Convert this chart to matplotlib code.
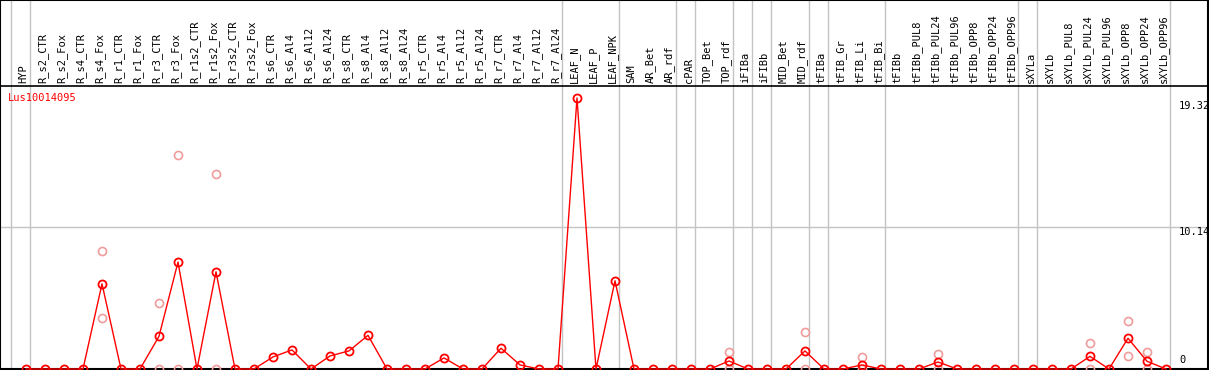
import numpy as np
import matplotlib.pyplot as plt

plt.rcParams['font.family'] = 'DejaVu Sans Mono'

gene = 'Lus10014095'

samples = ['HYP',
           'R_s2_CTR', 'R_s2_Fox', 'R_s4_CTR', 'R_s4_Fox', 'R_r1_CTR', 'R_r1_Fox',
           'R_r3_CTR', 'R_r3_Fox', 'R_r1s2_CTR', 'R_r1s2_Fox', 'R_r3s2_CTR', 'R_r3s2_Fox',
           'R_s6_CTR', 'R_s6_Al4', 'R_s6_Al12', 'R_s6_Al24', 'R_s8_CTR', 'R_s8_Al4',
           'R_s8_Al12', 'R_s8_Al24', 'R_r5_CTR', 'R_r5_Al4', 'R_r5_Al12', 'R_r5_Al24',
           'R_r7_CTR', 'R_r7_Al4', 'R_r7_Al12', 'R_r7_Al24',
           'LEAF_N', 'LEAF_P', 'LEAF_NPK',
           'SAM', 'AR_Bet', 'AR_rdf', 'cPAR', 'TOP_Bet', 'TOP_rdf', 'iFIBa', 'iFIBb',
           'MID_Bet', 'MID_rdf', 'tFIBa', 'tFIB_Gr', 'tFIB_Li', 'tFIB_Bi', 'tFIBb',
           'tFIBb_PUL8', 'tFIBb_PUL24', 'tFIBb_PUL96', 'tFIBb_OPP8', 'tFIBb_OPP24', 'tFIBb_OPP96',
           'sXYLa', 'sXYLb',
           'sXYLb_PUL8', 'sXYLb_PUL24', 'sXYLb_PUL96', 'sXYLb_OPP8', 'sXYLb_OPP24', 'sXYLb_OPP96']

# mean expression per sample
means = [0, 0, 0, 0, 6.07, 0, 0, 2.33, 7.62, 0, 6.93, 0, 0,
         0.86, 1.36, 0, 0.93, 1.29, 2.40, 0, 0, 0, 0.79, 0, 0, 1.48, 0.29, 0, 0,
         19.32, 0, 6.29,
         0, 0, 0, 0, 0, 0.57, 0, 0, 0, 1.29, 0, 0, 0.29, 0, 0,
         0, 0.50, 0, 0, 0, 0,
         0, 0,
         0, 0.90, 0, 2.19, 0.55, 0]

# individual replicates (sample index, value)
rep_idx = [4, 4, 7, 7, 8, 8, 10, 10, 37, 37, 41, 41, 44, 44, 48, 48, 56, 56, 58, 58, 59, 59]
rep_vals = [8.40, 3.60, 4.70, 0, 15.25, 0, 13.90, 0, 1.21, 0, 2.62, 0, 0.86, 0,
            1.07, 0, 1.83, 0, 3.43, 0.90, 1.21, 0]

# last sample index of each group (vertical separators)
group_ends = [-1, 0, 28, 31, 34, 35, 37, 38, 39, 41, 42, 45, 52, 53, 60]

yticks = [0, 10.14, 19.32]

# pixel geometry of the original picture
W, H = 1208, 370
X0, DX = 26, 19
ZERO, K = 369, 14.03
HEADER = 86

fig = plt.figure(figsize=(12.09, 3.70), dpi=100)
ax = fig.add_axes([0, 0, W / 1209, 1])
ax.set_xlim(-X0 / DX, (W - X0) / DX)
ax.set_ylim(-(H - ZERO) / K, ZERO / K)
ax.set_xticks([])
ax.set_yticks([])
for s in ['left', 'top', 'right']:
    ax.spines[s].set_linewidth(1.5)
    ax.spines[s].set_color('black')
ax.spines['bottom'].set_visible(False)

x = np.arange(len(samples))

# separators and grid
for g in group_ends:
    ax.axvline(g + 4.3 / DX, color='#c4c4c4', lw=1, zorder=0)
ax.axhline(yticks[1], color='#c4c4c4', lw=1, zorder=0)
ax.axhline((ZERO - HEADER) / K, color='black', lw=1.2, zorder=1)
ax.axhline(0, color='black', lw=1.5, zorder=1)

# header labels
for i, name in enumerate(samples):
    ax.text(i - 2.5 / DX, (ZERO - 83) / K, name, rotation=90, ha='center',
            va='bottom', fontsize=7.5, color='black')

# replicates then means
ax.plot(rep_idx, rep_vals, 'o', ms=5.8, mfc='none', mec='#f09c9c', mew=1.2, zorder=2)
ax.plot(x, means, '-', color='red', lw=1.0, zorder=3)
ax.plot(x, means, 'o', ms=5.8, mfc='none', mec='red', mew=1.3, zorder=4)

ax.text(8 / DX - X0 / DX, means[29], gene, color='red', fontsize=7.5,
        ha='left', va='center')

# value labels on the right
lx = (1179 - X0) / DX
ax.text(lx, yticks[2] - 0.25, f'{yticks[2]:.2f}', fontsize=7.5, ha='left', va='top')
ax.text(lx, yticks[1], f'{yticks[1]:.2f}', fontsize=7.5, ha='left', va='top')
ax.text(lx, 0.25, '0', fontsize=7.5, ha='left', va='bottom')

fig.savefig('out.png', dpi=100)
